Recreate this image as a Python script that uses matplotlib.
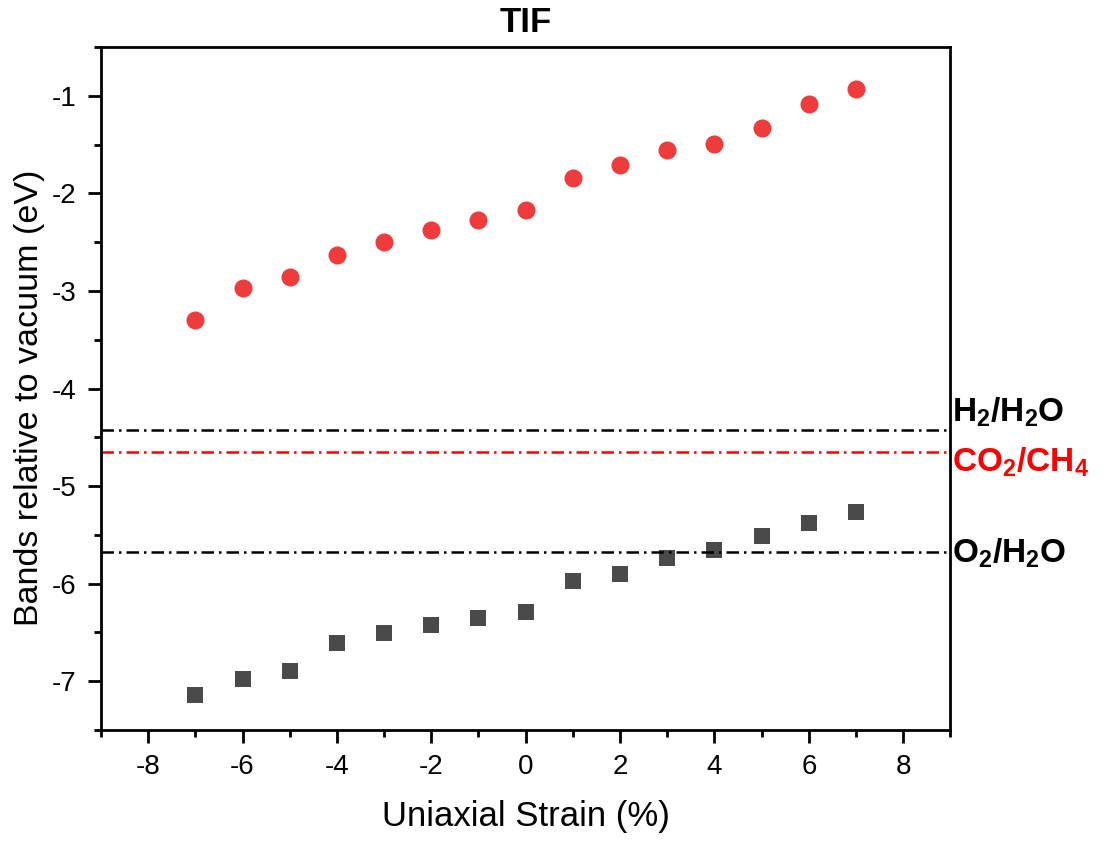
import numpy as np
import matplotlib.pyplot as plt
from matplotlib.ticker import MultipleLocator

plt.rcParams['font.family'] = ['Liberation Sans', 'DejaVu Sans']
plt.rcParams['mathtext.fontset'] = 'custom'
plt.rcParams['mathtext.rm'] = 'Liberation Sans'
plt.rcParams['mathtext.bf'] = 'Liberation Sans:bold'
plt.rcParams['axes.unicode_minus'] = False

strain = [-7, -6, -5, -4, -3, -2, -1, 0, 1, 2, 3, 4, 5, 6, 7]
cbm = [-3.30, -2.97, -2.86, -2.63, -2.50, -2.37, -2.27, -2.17,
       -1.84, -1.71, -1.55, -1.49, -1.33, -1.08, -0.93]
vbm = [-7.14, -6.98, -6.90, -6.61, -6.51, -6.42, -6.35, -6.29,
       -5.97, -5.90, -5.74, -5.65, -5.51, -5.38, -5.27]

redox_names = [r'$\mathbf{H_2/H_2O}$', r'$\mathbf{CO_2/CH_4}$', r'$\mathbf{O_2/H_2O}$']
redox_vals = [-4.43, -4.65, -5.68]
redox_cols = ['black', 'red', 'black']
label_offsets = [0.19, -0.11, -0.01]

fig = plt.figure(figsize=(11.06, 8.41), dpi=100)
ax = fig.add_axes([0.0913, 0.132, 0.768, 0.812])

ax.plot(strain, cbm, 'o', color='#EE3B3B', markersize=13, markeredgewidth=0)
ax.plot(strain, vbm, 's', color='#4A4A4A', markersize=11.5, markeredgewidth=0)

for name, v, c, off in zip(redox_names, redox_vals, redox_cols, label_offsets):
    ax.axhline(v, color=c, linestyle='-.', linewidth=1.8, dashes=(5, 2, 1, 2))
    ax.text(9.03, v + off, name, color=c, fontsize=24, ha='left', va='center',
            clip_on=False)

ax.set_xlim(-9, 9)
ax.set_ylim(-7.5, -0.5)
ax.xaxis.set_major_locator(MultipleLocator(2))
ax.xaxis.set_minor_locator(MultipleLocator(1))
ax.yaxis.set_major_locator(MultipleLocator(1))
ax.yaxis.set_minor_locator(MultipleLocator(0.5))
ax.tick_params(which='both', direction='out', top=False, right=False, width=2)
ax.tick_params(which='major', length=9.5, labelsize=20, pad=8)
ax.tick_params(which='minor', length=5)
for s in ax.spines.values():
    s.set_linewidth(2)

ax.set_xlabel('Uniaxial Strain (%)', fontsize=25, labelpad=14)
ax.set_ylabel('Bands relative to vacuum (eV)', fontsize=24.5)
ax.yaxis.set_label_coords(-0.066, 0.486)
ax.set_title('TIF', fontsize=25, fontweight='bold', pad=11)

fig.savefig('out.png', dpi=100)
